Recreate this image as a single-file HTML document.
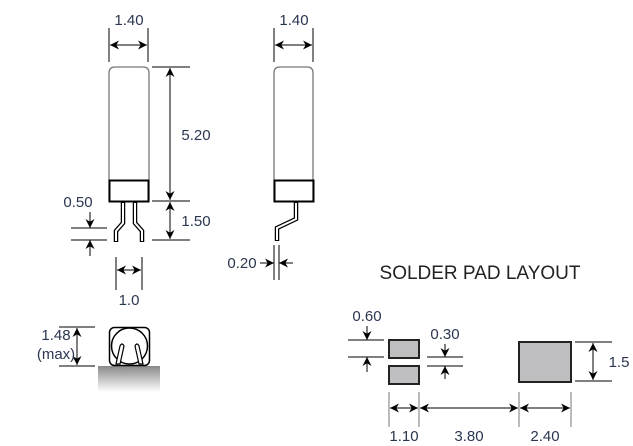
<!DOCTYPE html>
<html><head><meta charset="utf-8"><style>
html,body{margin:0;padding:0;background:#fff;width:633px;height:446px;overflow:hidden}
text{font-family:"Liberation Sans",sans-serif;font-size:15px;fill:#2a3550}
</style></head><body>
<svg width="633" height="446" viewBox="0 0 633 446" xmlns="http://www.w3.org/2000/svg">
<defs>
<marker id="a" viewBox="0 0 10 10" refX="10" refY="5" markerWidth="9" markerHeight="9" orient="auto-start-reverse" markerUnits="userSpaceOnUse">
<path d="M0,0 L10,5 L0,10 L3,5 Z" fill="#000"/></marker>
<linearGradient id="g" x1="0" y1="0" x2="0" y2="1"><stop offset="0" stop-color="#888"/><stop offset="1" stop-color="#fff"/></linearGradient>
</defs>
<g stroke="#000" stroke-width="1" fill="none">
<path d="M109,28V62 M148,28V62"/>
<line x1="110" y1="45" x2="147" y2="45" marker-start="url(#a)" marker-end="url(#a)"/>
<path d="M109,201V73Q109,67 115,67H143Q149,67 149,73V201" stroke="#777" stroke-width="1.3"/>
<rect x="109.5" y="180.5" width="39" height="21" stroke-width="2"/>
<path d="M152,67H190 M152,201H190 M152,240H190"/>
<line x1="170" y1="68" x2="170" y2="200" marker-start="url(#a)" marker-end="url(#a)"/>
<line x1="170" y1="202" x2="170" y2="239" marker-start="url(#a)" marker-end="url(#a)"/>
<g stroke-width="4.5"><path d="M123,202V223L116,231V242 M135,202V223L142,231V242"/></g>
<g stroke="#fff" stroke-width="2"><path d="M123,203V223L116,231V241 M135,203V223L142,231V241"/></g>
<path d="M71,228H107 M71,240H107"/>
<line x1="90" y1="212" x2="90" y2="228" marker-end="url(#a)"/>
<line x1="90" y1="256" x2="90" y2="240" marker-end="url(#a)"/>
<path d="M116,257V290 M142,257V290"/>
<line x1="117" y1="270" x2="141" y2="270" marker-start="url(#a)" marker-end="url(#a)"/>
<path d="M274,28V62 M313,28V62"/>
<line x1="275" y1="45" x2="312" y2="45" marker-start="url(#a)" marker-end="url(#a)"/>
<path d="M274,201V73Q274,67 280,67H307Q313,67 313,73V201" stroke="#777" stroke-width="1.3"/>
<rect x="274.5" y="180.5" width="39" height="21" stroke-width="2"/>
<path d="M296,202V219L277,228V241" stroke-width="4.5"/>
<path d="M296,203V219L277,228V240" stroke="#fff" stroke-width="2"/>
<path d="M274,245V280 M279,245V280"/>
<line x1="260" y1="263" x2="274" y2="263" marker-end="url(#a)"/>
<line x1="293" y1="263" x2="279" y2="263" marker-end="url(#a)"/>
<rect x="98" y="366" width="62" height="26" fill="url(#g)" stroke="none"/>
<rect x="109.5" y="327.5" width="40" height="38" rx="5" stroke-width="1.5"/>
<circle cx="129.5" cy="346" r="18" stroke-width="1.5"/>
<path d="M116,364L120,346Q122,342 124,346L120,364Z M143,364L139,346Q137,342 135,346L139,364Z" fill="#fff" stroke-width="1.2"/>
<path d="M59,327H95 M59,366H95"/>
<line x1="77" y1="328" x2="77" y2="365" marker-start="url(#a)" marker-end="url(#a)"/>
<g fill="#bfbfc2" stroke="#222" stroke-width="2">
<rect x="389" y="340" width="30" height="18"/>
<rect x="389" y="366" width="30" height="18"/>
<rect x="519" y="342" width="52" height="40"/>
</g>
<path d="M348,340H384 M348,357H384"/>
<line x1="367" y1="326" x2="367" y2="340" marker-end="url(#a)"/>
<line x1="367" y1="372" x2="367" y2="357" marker-end="url(#a)"/>
<path d="M427,357H463 M427,366H463"/>
<line x1="445" y1="344" x2="445" y2="357" marker-end="url(#a)"/>
<line x1="445" y1="379" x2="445" y2="366" marker-end="url(#a)"/>
<path d="M575,342H612 M575,381H612"/>
<line x1="593" y1="343" x2="593" y2="380" marker-start="url(#a)" marker-end="url(#a)"/>
<path d="M389,392V427 M419,392V427 M519,392V427 M571,392V427" stroke="#777"/>
<line x1="390" y1="408" x2="418" y2="408" marker-start="url(#a)" marker-end="url(#a)"/>
<line x1="420" y1="408" x2="518" y2="408" marker-start="url(#a)" marker-end="url(#a)"/>
<line x1="520" y1="408" x2="570" y2="408" marker-start="url(#a)" marker-end="url(#a)"/>
</g>
<g text-anchor="middle">
<text x="129" y="25">1.40</text>
<text x="294" y="25">1.40</text>
<text x="196" y="140">5.20</text>
<text x="196" y="226">1.50</text>
<text x="78" y="207">0.50</text>
<text x="129" y="305">1.0</text>
<text x="242" y="268">0.20</text>
<text x="56" y="340">1.48</text>
<text x="56" y="359">(max)</text>
<text x="480" y="279" style="font-size:19px;fill:#222">SOLDER PAD LAYOUT</text>
<text x="367" y="321">0.60</text>
<text x="445" y="339">0.30</text>
<text x="619" y="367">1.5</text>
<text x="404" y="441">1.10</text>
<text x="469" y="441">3.80</text>
<text x="545" y="441">2.40</text>
</g>
</svg>
</body></html>
